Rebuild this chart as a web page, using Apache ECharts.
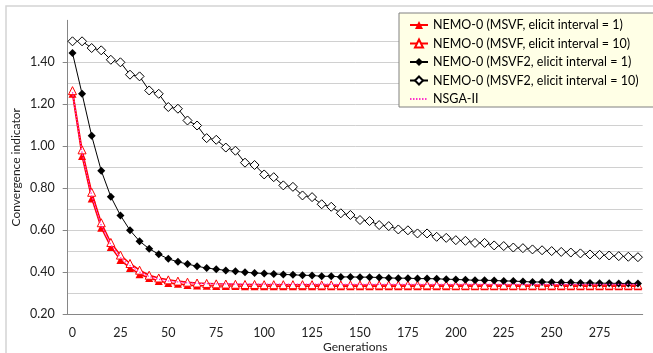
<!DOCTYPE html>
<html>
<head>
<meta charset="utf-8">
<script src="https://cdn.jsdelivr.net/npm/echarts@6/dist/echarts.min.js"></script>
<style>
  html, body { margin: 0; padding: 0; background: #ffffff; }
  #chart { width: 653px; height: 353px; }
</style>
</head>
<body>
<div id="chart"></div>
<script>
// Generations sampled every 5 steps
const generations = [
  '0','5','10','15','20','25','30','35','40','45','50','55','60','65','70','75','80','85','90','95',
  '100','105','110','115','120','125','130','135','140','145','150','155','160','165','170','175','180','185','190','195',
  '200','205','210','215','220','225','230','235','240','245','250','255','260','265','270','275','280','285','290','295'
];

// NEMO-0 (MSVF, elicit interval = 1)
const msvfInt1 = [
  1.250,0.954,0.752,0.612,0.521,0.458,0.421,0.391,0.373,0.359,0.349,0.345,0.340,0.337,0.336,0.335,0.335,0.335,0.334,0.334,
  0.334,0.334,0.334,0.334,0.334,0.334,0.334,0.334,0.334,0.334,0.334,0.334,0.334,0.334,0.334,0.333,0.333,0.333,0.333,0.333,
  0.333,0.333,0.333,0.333,0.333,0.333,0.333,0.333,0.333,0.333,0.333,0.333,0.333,0.333,0.333,0.333,0.333,0.333,0.333,0.333
];

// NEMO-0 (MSVF, elicit interval = 10)
const msvfInt10 = [
  1.265,0.983,0.781,0.636,0.542,0.482,0.442,0.410,0.386,0.373,0.364,0.358,0.353,0.349,0.347,0.345,0.344,0.343,0.342,0.342,
  0.341,0.341,0.341,0.341,0.341,0.341,0.340,0.340,0.340,0.340,0.340,0.340,0.340,0.340,0.340,0.340,0.340,0.340,0.340,0.340,
  0.339,0.339,0.339,0.339,0.339,0.339,0.339,0.339,0.339,0.339,0.339,0.339,0.339,0.339,0.339,0.339,0.339,0.339,0.339,0.339
];

// NEMO-0 (MSVF2, elicit interval = 1)
const msvf2Int1 = [
  1.444,1.250,1.050,0.884,0.760,0.671,0.600,0.548,0.512,0.486,0.464,0.450,0.439,0.429,0.420,0.415,0.409,0.405,0.400,0.397,
  0.394,0.392,0.390,0.388,0.386,0.385,0.381,0.381,0.378,0.378,0.377,0.377,0.375,0.373,0.372,0.372,0.370,0.370,0.369,0.367,
  0.366,0.364,0.362,0.362,0.361,0.359,0.358,0.356,0.354,0.354,0.353,0.351,0.351,0.349,0.349,0.348,0.348,0.347,0.347,0.347
];

// NEMO-0 (MSVF2, elicit interval = 10)
const msvf2Int10 = [
  1.500,1.500,1.468,1.457,1.412,1.400,1.341,1.333,1.266,1.250,1.187,1.179,1.123,1.099,1.039,1.031,0.994,0.979,0.922,0.911,
  0.866,0.853,0.814,0.807,0.766,0.758,0.724,0.712,0.681,0.673,0.649,0.644,0.625,0.620,0.604,0.600,0.585,0.585,0.569,0.564,
  0.553,0.550,0.540,0.540,0.528,0.525,0.518,0.515,0.509,0.505,0.501,0.497,0.494,0.490,0.485,0.483,0.480,0.477,0.474,0.472
];

// NSGA-II
const nsga2 = [
  1.258,0.968,0.766,0.624,0.532,0.470,0.432,0.401,0.380,0.367,0.359,0.354,0.350,0.347,0.346,0.345,0.345,0.344,0.344,0.344,
  0.344,0.344,0.344,0.344,0.344,0.344,0.344,0.343,0.343,0.343,0.343,0.343,0.343,0.343,0.343,0.343,0.343,0.343,0.343,0.343,
  0.343,0.343,0.343,0.343,0.343,0.343,0.343,0.343,0.343,0.343,0.343,0.343,0.343,0.343,0.343,0.343,0.343,0.343,0.343,0.343
];

const FONT = 'Lato';
const chart = echarts.init(document.getElementById('chart'), null, { renderer: 'canvas' });

chart.setOption({
  backgroundColor: '#ffffff',
  animation: false,
  graphic: [{
    type: 'rect',
    shape: { x: 6, y: 6, width: 700, height: 400 },
    style: { fill: 'none', stroke: '#d4d4d4', lineWidth: 1.5 },
    silent: true,
    z: -1
  }],
  grid: {
    left: 67.7, right: 10.3, top: 20.3, bottom: 38.7,
    containLabel: false,
    outerBoundsMode: 'none'
  },
  legend: {
    orient: 'vertical',
    left: 399,
    top: 13,
    padding: [5, 16, 1, 10],
    itemGap: 4.5,
    itemWidth: 18,
    itemHeight: 10,
    backgroundColor: '#ffffe6',
    borderColor: '#808080',
    borderWidth: 1,
    borderRadius: 0,
    textStyle: { fontFamily: FONT, fontSize: 12.5, color: '#000', lineHeight: 14 },
    data: [
      'NEMO-0 (MSVF, elicit interval = 1)',
      'NEMO-0 (MSVF, elicit interval = 10)',
      'NEMO-0 (MSVF2, elicit interval = 1)',
      'NEMO-0 (MSVF2, elicit interval = 10)',
      { name: 'NSGA-II', itemStyle: { opacity: 0 } }
    ]
  },
  xAxis: {
    type: 'category',
    data: generations,
    boundaryGap: true,
    name: 'Generations',
    nameLocation: 'middle',
    nameGap: 27,
    nameMoveOverlap: false,
    nameTextStyle: { fontFamily: FONT, fontSize: 12, color: '#222' },
    axisLine: { lineStyle: { color: '#868686', width: 1 } },
    axisTick: { interval: 4, length: 5, lineStyle: { color: '#868686' } },
    axisLabel: { interval: 4, fontFamily: FONT, fontSize: 12.5, color: '#222', margin: 12 },
    splitLine: { show: false }
  },
  yAxis: {
    type: 'value',
    min: 0.2,
    max: 1.6,
    interval: 0.2,
    name: 'Convergence indicator',
    nameLocation: 'middle',
    nameGap: 46,
    nameMoveOverlap: false,
    nameRotate: 90,
    nameTextStyle: { fontFamily: FONT, fontSize: 12, color: '#222' },
    axisLine: { show: true, lineStyle: { color: '#868686', width: 1 } },
    axisTick: { show: true, length: 5, lineStyle: { color: '#868686' } },
    axisLabel: {
      showMaxLabel: false,
      fontFamily: FONT, fontSize: 12.5, color: '#222', margin: 13,
      formatter: v => v.toFixed(2)
    },
    splitLine: { show: true, showMaxLine: false, lineStyle: { color: '#d0d0d0', width: 1 } },
    minorTick: { show: false, splitNumber: 2 },
    minorSplitLine: { show: true, lineStyle: { color: '#d0d0d0', width: 1 } }
  },
  series: [
    {
      name: 'NEMO-0 (MSVF, elicit interval = 1)',
      type: 'line',
      data: msvfInt1,
      symbol: 'triangle',
      symbolSize: 8,
      showAllSymbol: true,
      itemStyle: { color: '#ff0000' },
      lineStyle: { color: '#ff0000', width: 1.5 },
      z: 2
    },
    {
      name: 'NEMO-0 (MSVF, elicit interval = 10)',
      type: 'line',
      data: msvfInt10,
      symbol: 'triangle',
      symbolSize: 8,
      showAllSymbol: true,
      itemStyle: { color: '#ffffff', borderColor: '#ff0000', borderWidth: 1 },
      lineStyle: { color: '#ff0000', width: 1.5 },
      z: 3
    },
    {
      name: 'NEMO-0 (MSVF2, elicit interval = 1)',
      type: 'line',
      data: msvf2Int1,
      symbol: 'diamond',
      symbolSize: 8,
      showAllSymbol: true,
      itemStyle: { color: '#000000' },
      lineStyle: { color: '#000000', width: 1 },
      z: 4
    },
    {
      name: 'NEMO-0 (MSVF2, elicit interval = 10)',
      type: 'line',
      data: msvf2Int10,
      symbol: 'diamond',
      symbolSize: 9,
      showAllSymbol: true,
      itemStyle: { color: '#ffffff', borderColor: '#000000', borderWidth: 1 },
      lineStyle: { color: '#000000', width: 1 },
      z: 5
    },
    {
      name: 'NSGA-II',
      type: 'line',
      data: nsga2,
      symbol: 'none',
      showSymbol: false,
      itemStyle: { color: '#ff33cc' },
      lineStyle: { color: '#ff33cc', width: 1.25, type: [1.5, 1.5] },
      z: 6
    }
  ]
});
</script>
</body>
</html>
